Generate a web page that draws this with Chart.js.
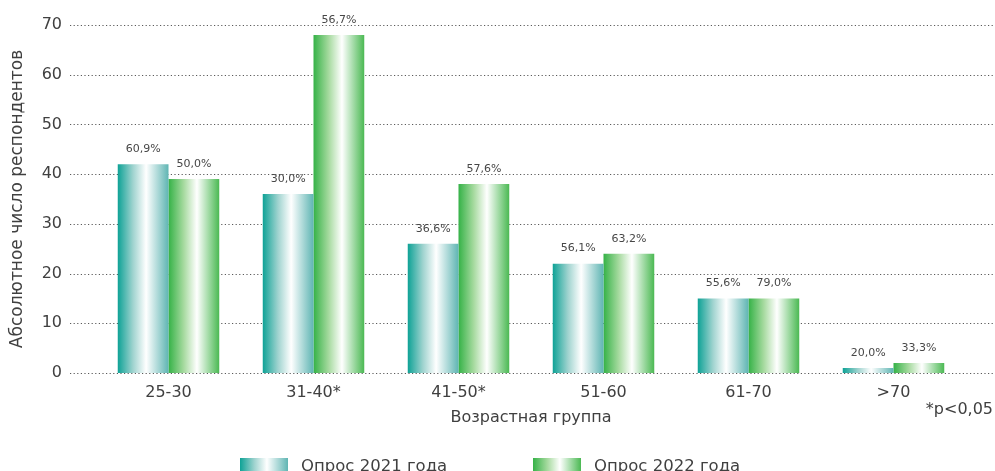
<!DOCTYPE html>
<html>
<head>
<meta charset="utf-8">
<script src="https://cdn.jsdelivr.net/npm/chart.js@4.4.0/dist/chart.umd.min.js"></script>
<style>
  html, body { margin: 0; padding: 0; background: #ffffff; }
  #wrap { width: 995px; height: 471px; position: relative; }
</style>
</head>
<body>
<div id="wrap"><canvas id="chart"></canvas></div>
<script>
// Respondents per age group, two survey waves
const ageGroups   = ['25-30', '31-40*', '41-50*', '51-60', '61-70', '>70'];
const survey2021  = [42, 36, 26, 22, 15, 1];
const survey2022  = [39, 68, 38, 24, 15, 2];
// Shares printed above the bars
const share2021   = ['60,9%', '30,0%', '36,6%', '56,1%', '55,6%', '20,0%'];
const share2022   = ['50,0%', '56,7%', '57,6%', '63,2%', '79,0%', '33,3%'];
const yTicks      = [0, 10, 20, 30, 40, 50, 60, 70];
const seriesNames = ['Опрос 2021 года', 'Опрос 2022 года'];

const FONT = 'DejaVu Sans';
const TEXT = '#404040';
const CAT_PCT = 0.7;

// Horizontal "cylinder" gradients for each series
const tealStops  = [[0, '#0ea296'], [0.3, '#9fd3cf'], [0.56, '#ffffff'], [1, '#5fb5b3']];
const greenStops = [[0, '#35b247'], [0.3, '#a6da9f'], [0.56, '#ffffff'], [1, '#4bb953']];

function makeGradient(ctx2d, x0, w, stops) {
  const g = ctx2d.createLinearGradient(x0, 0, x0 + w, 0);
  stops.forEach(s => g.addColorStop(s[0], s[1]));
  return g;
}

function barFill(stops, side) {
  return function (ctx) {
    const chart = ctx.chart;
    const xs = chart.scales.x;
    if (!xs || ctx.type !== 'data') return stops[0][1];
    const center = xs.getPixelForValue(ctx.dataIndex);
    const w = xs.width / ageGroups.length * CAT_PCT / 2;
    if (!isFinite(center) || !isFinite(w) || w <= 0) return stops[0][1];
    const x0 = side === 0 ? center - w : center;
    return makeGradient(chart.ctx, x0, w, stops);
  };
}

// Dotted horizontal guides running past the plot on both sides
const dottedGrid = {
  id: 'dottedGrid',
  beforeDatasetsDraw(chart) {
    const c = chart.ctx, ys = chart.scales.y;
    c.save();
    c.strokeStyle = '#5a5a5a';
    c.lineWidth = 1;
    c.setLineDash([1.2, 2.4]);
    yTicks.forEach(v => {
      const y = Math.round(ys.getPixelForValue(v)) + 0.5;
      c.beginPath();
      c.moveTo(70, y);
      c.lineTo(995, y);
      c.stroke();
    });
    c.restore();
  }
};

// Percent labels above each bar
const shareLabels = {
  id: 'shareLabels',
  afterDatasetsDraw(chart) {
    const c = chart.ctx;
    const texts = [share2021, share2022];
    c.save();
    c.font = '11px "' + FONT + '"';
    c.fillStyle = '#474747';
    c.textAlign = 'center';
    c.textBaseline = 'middle';
    chart.data.datasets.forEach((ds, i) => {
      chart.getDatasetMeta(i).data.forEach((el, j) => {
        c.fillText(texts[i][j], el.x, el.y - 15);
      });
    });
    c.restore();
  }
};

// Footnote and legend row
const extras = {
  id: 'extras',
  afterDraw(chart) {
    const c = chart.ctx;
    c.save();
    c.font = '16px "' + FONT + '"';
    c.fillStyle = TEXT;
    c.textAlign = 'right';
    c.textBaseline = 'middle';
    c.fillText('*p<0,05', 993, 410);

    const items = [
      { x: 240, stops: tealStops,  label: seriesNames[0] },
      { x: 533, stops: greenStops, label: seriesNames[1] }
    ];
    c.textAlign = 'left';
    c.textBaseline = 'alphabetic';
    c.font = '16.5px "' + FONT + '"';
    items.forEach(it => {
      c.fillStyle = makeGradient(c, it.x, 48, it.stops);
      c.fillRect(it.x, 458, 48, 16);
      c.fillStyle = TEXT;
      c.fillText(it.label, it.x + 61, 471);
    });
    c.restore();
  }
};

new Chart(document.getElementById('chart'), {
  type: 'bar',
  data: {
    labels: ageGroups,
    datasets: [
      { label: seriesNames[0], data: survey2021, backgroundColor: barFill(tealStops, 0),
        borderWidth: 0, barPercentage: 1, categoryPercentage: CAT_PCT },
      { label: seriesNames[1], data: survey2022, backgroundColor: barFill(greenStops, 1),
        borderWidth: 0, barPercentage: 1, categoryPercentage: CAT_PCT }
    ]
  },
  options: {
    responsive: true,
    maintainAspectRatio: false,
    animation: false,
    events: [],
    layout: { padding: { top: 25, right: 29, left: 0, bottom: 0 } },
    plugins: {
      legend: { display: false },
      tooltip: { enabled: false }
    },
    scales: {
      x: {
        grid: { display: false, drawTicks: false },
        border: { display: false },
        ticks: { font: { family: FONT, size: 16 }, color: TEXT, padding: 10 },
        title: { display: true, text: 'Возрастная группа',
                 font: { family: FONT, size: 16 }, color: TEXT,
                 padding: { top: 0, bottom: 44 } },
        afterFit(scale) { scale.height = 98; }
      },
      y: {
        min: 0, max: 70,
        grid: { display: false, drawTicks: false },
        border: { display: false },
        ticks: { stepSize: 10, font: { family: FONT, size: 16 }, color: TEXT, padding: 34 },
        title: { display: true, text: 'Абсолютное число респондентов',
                 font: { family: FONT, size: 17 }, color: TEXT,
                 padding: { top: 7, bottom: 0 } },
        afterFit(scale) {
          scale.width = 96;
          scale.paddingTop = 0;
          scale.paddingBottom = 0;
        }
      }
    }
  },
  plugins: [dottedGrid, shareLabels, extras]
});
</script>
</body>
</html>
